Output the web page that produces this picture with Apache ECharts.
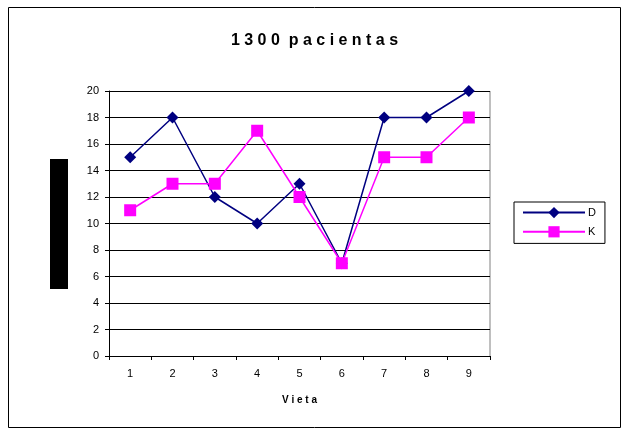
<!DOCTYPE html>
<html>
<head>
<meta charset="utf-8">
<script src="https://cdn.jsdelivr.net/npm/echarts@6/dist/echarts.min.js"></script>
<style>html,body{margin:0;padding:0;background:#fff}#c{width:629px;height:435px}</style>
</head>
<body>
<div id="c"></div>
<script>
const categories = ['1','2','3','4','5','6','7','8','9'];
const seriesD = [15, 18, 12, 10, 13, 7, 18, 18, 20];
const seriesK = [11, 13, 13, 17, 12, 7, 15, 15, 18];
const titleText = '1 3 0 0  p a c i e n t a s';
const xTitle = 'V i e t a';

const chart = echarts.init(document.getElementById('c'));
chart.setOption({
  animation: false,
  backgroundColor: '#fff',
  title: {
    text: titleText, left: 'center', top: 28,
    textStyle: { fontFamily: 'Liberation Sans, Arial', fontSize: 16, fontWeight: 'bold', color: '#000' }
  },
  legend: {
    orient: 'vertical', left: 514, top: 202,
    padding: [5, 9, 6, 8],
    itemGap: 8,
    itemWidth: 62, itemHeight: 14,
    borderColor: '#000', borderWidth: 1,
    textStyle: { fontFamily: 'Liberation Sans, Arial', fontSize: 11, color: '#000', padding: [0, 0, 0, -2] },
    data: ['D', 'K']
  },
  grid: { left: 109, right: 139, top: 91, bottom: 79 },
  xAxis: {
    type: 'category', data: categories, boundaryGap: true,
    name: xTitle, nameLocation: 'middle', nameGap: 39,
    nameTextStyle: { fontFamily: 'Liberation Sans, Arial', fontSize: 10, fontWeight: 'bold', color: '#000' },
    axisLine: { lineStyle: { color: '#000', width: 1 } },
    axisTick: { show: true, alignWithLabel: false, length: 4, lineStyle: { color: '#000' } },
    axisLabel: { fontFamily: 'Liberation Sans, Arial', fontSize: 11, color: '#000', margin: 12 }
  },
  yAxis: {
    type: 'value', min: 0, max: 20, interval: 2,
    axisLine: { show: true, lineStyle: { color: '#000', width: 1 } },
    axisTick: { show: true, length: 4, lineStyle: { color: '#000' } },
    axisLabel: { fontFamily: 'Liberation Sans, Arial', fontSize: 11, color: '#000', margin: 10 },
    splitLine: { show: true, lineStyle: { color: '#000', width: 1 } }
  },
  graphic: [
    { type: 'rect', shape: { x: 8.5, y: 7.5, width: 612, height: 420 }, style: { fill: 'none', stroke: '#000', lineWidth: 1 }, silent: true },
    { type: 'rect', shape: { x: 50, y: 159, width: 18, height: 130 }, style: { fill: '#000' }, silent: true },
    { type: 'line', shape: { x1: 490, y1: 91, x2: 490, y2: 356 }, style: { stroke: '#808080', lineWidth: 1 }, silent: true }
  ],
  series: [
    {
      name: 'D', type: 'line', data: seriesD,
      symbol: 'diamond', symbolSize: 12,
      itemStyle: { color: '#000080' },
      lineStyle: { color: '#000080', width: 1.5 }
    },
    {
      name: 'K', type: 'line', data: seriesK,
      symbol: 'rect', symbolSize: 12,
      itemStyle: { color: '#FF00FF' },
      lineStyle: { color: '#FF00FF', width: 1.5 }
    }
  ]
});
</script>
</body>
</html>
